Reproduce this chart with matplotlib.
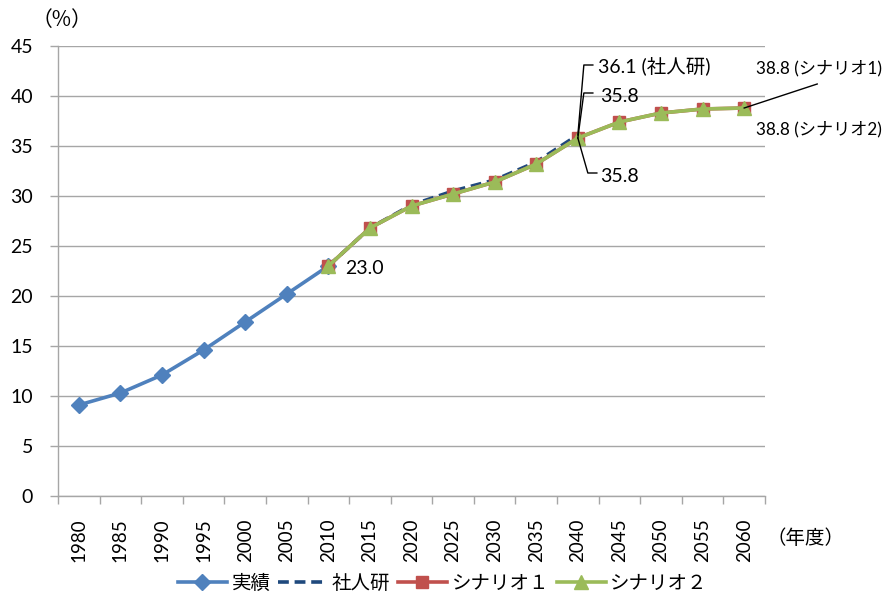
import numpy as np
import matplotlib
matplotlib.use("Agg")
import matplotlib.pyplot as plt
import matplotlib.transforms as mtransforms
from matplotlib.lines import Line2D

plt.rcParams['font.family'] = ['Lato', 'Noto Sans CJK JP', 'DejaVu Sans']

years = [1980, 1985, 1990, 1995, 2000, 2005, 2010, 2015, 2020, 2025,
         2030, 2035, 2040, 2045, 2050, 2055, 2060]
actual = [9.1, 10.3, 12.1, 14.6, 17.4, 20.2, 23.0]
ipss = [23.0, 26.8, 29.1, 30.5, 31.6, 33.4, 36.1]
scenario1 = [23.0, 26.8, 29.0, 30.2, 31.4, 33.2, 35.8, 37.4, 38.3, 38.7, 38.8]
scenario2 = [23.0, 26.8, 29.0, 30.2, 31.4, 33.2, 35.8, 37.4, 38.3, 38.7, 38.8]
yticks = list(range(0, 50, 5))

C_ACT = '#4F81BD'
C_IPSS = '#1F497D'
C_S1 = '#C0504D'
C_S2 = '#9BBB59'
GRID = '#A6A6A6'
CJK = ['Noto Sans CJK JP', 'DejaVu Sans']

fig = plt.figure(figsize=(8.82, 6.0), dpi=100)
ax = fig.add_axes([58 / 882, 1 - 496 / 600, (765 - 58) / 882, (496 - 46) / 600])

x = np.arange(len(years))
i0 = years.index(2010)
x_act = x[:len(actual)]
x_ipss = x[i0:i0 + len(ipss)]
x_sc = x[i0:i0 + len(scenario1)]

l_act, = ax.plot(x_act, actual, color=C_ACT, lw=2.6, marker='D', ms=8,
                 mfc=C_ACT, mec=C_ACT, label='実績', zorder=3)
l_ipss, = ax.plot(x_ipss, ipss, color=C_IPSS, lw=2.6, ls=(0, (3, 1.6)),
                  label='社人研', zorder=3)
l_s1, = ax.plot(x_sc, scenario1, color=C_S1, lw=2.6, marker='s', ms=9,
                mfc=C_S1, mec=C_S1, label='シナリオ１', zorder=4)
l_s2, = ax.plot(x_sc, scenario2, color=C_S2, lw=2.6, marker='^', ms=10,
                mfc=C_S2, mec=C_S2, label='シナリオ２', zorder=5)

ax.set_xlim(-0.5, len(years) - 0.5)
ax.set_ylim(0, 45)
ax.set_yticks(yticks)
ax.set_yticklabels([str(v) for v in yticks])
ax.yaxis.grid(True, color=GRID, lw=1)
ax.set_axisbelow(True)
for s in ['top', 'right']:
    ax.spines[s].set_visible(False)
for s in ['left', 'bottom']:
    ax.spines[s].set_color(GRID)
    ax.spines[s].set_linewidth(1)

ax.set_xticks(x)
ax.set_xticklabels([str(y) for y in years], rotation=90)
ax.set_xticks(np.arange(-0.5, len(years)), minor=True)
ax.tick_params(axis='x', which='major', length=0, pad=16, labelsize=13.5)
ax.tick_params(axis='x', which='minor', length=6, color=GRID, width=1)
ax.tick_params(axis='y', length=6, color=GRID, width=1, pad=12, labelsize=14)

fig.text(62 / 882, 1 - 20 / 600, '（%）', fontsize=15, family=CJK,
         ha='center', va='center')
fig.text(805 / 882, 1 - 538 / 600, '（年度）', fontsize=14, family=CJK,
         ha='center', va='center')


def leader(xd, yd, pts):
    """Polyline whose vertices are pixel offsets from a data point."""
    tr = mtransforms.Affine2D() + mtransforms.ScaledTranslation(xd, yd, ax.transData)
    xs = [p[0] for p in pts]
    ys = [p[1] for p in pts]
    ln = Line2D(xs, ys, transform=tr, color='black', lw=1, clip_on=False, zorder=6)
    ax.add_line(ln)


def label(xd, yd, text, dx, dy, size=14):
    ax.annotate(text, xy=(xd, yd), xytext=(dx, dy), textcoords='offset pixels',
                ha='left', va='center', fontsize=size, zorder=7, annotation_clip=False)


i40 = years.index(2040)
i60 = years.index(2060)

# value labels
label(x[i0], actual[-1], '23.0', 17, -2)

label(x[i40], ipss[-1], '36.1 (社人研)', 20, 69)
leader(x[i40], ipss[-1], [(0, 0), (6, 70), (15, 70)])

label(x[i40], scenario1[i40 - i0], '35.8', 22, 42)
leader(x[i40], scenario1[i40 - i0], [(0, 0), (6, 45), (15, 45)])

label(x[i40], scenario2[i40 - i0], '35.8', 22, -38)
leader(x[i40], scenario2[i40 - i0], [(0, 0), (10, -35), (19, -35)])

label(x[i60], scenario1[-1], '38.8 (シナリオ1)', 12, 40, size=12.3)
leader(x[i60], scenario1[-1], [(0, 0), (73, 24)])

label(x[i60], scenario2[-1], '38.8 (シナリオ2)', 12, -21, size=12.3)

fig.legend(handles=[l_act, l_ipss, l_s1, l_s2], loc='center',
           bbox_to_anchor=(443 / 882, 1 - 583 / 600), ncol=4, frameon=False,
           fontsize=14, handlelength=2.5, handletextpad=0.25, columnspacing=0.4)

fig.savefig('out.png', dpi=100)
